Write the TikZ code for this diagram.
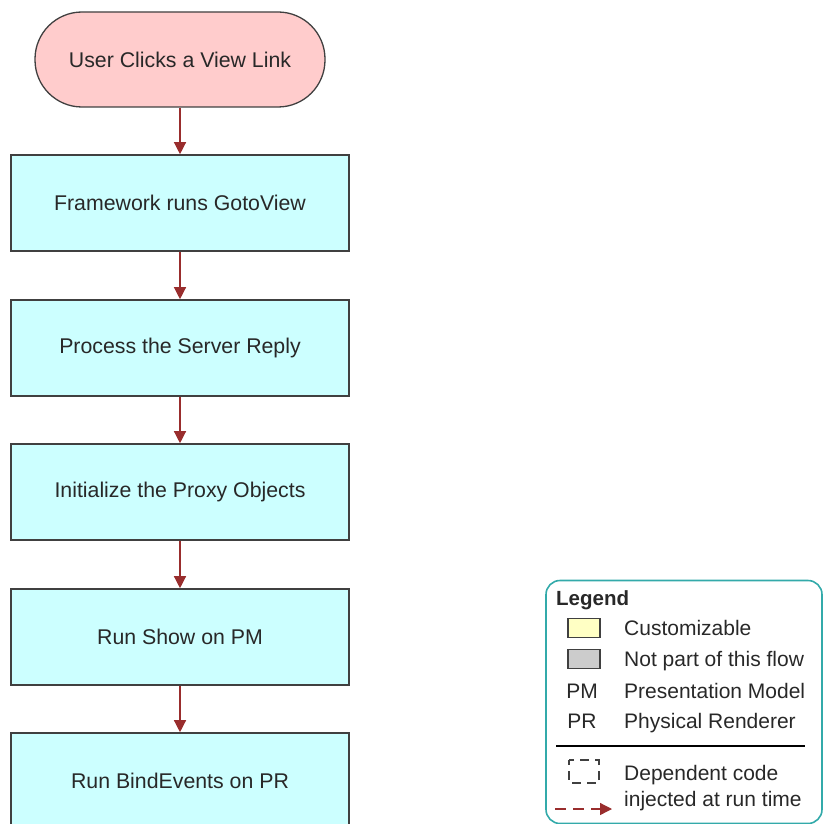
\documentclass[tikz,border=0pt]{standalone}
\usepackage{fontspec}
\setmainfont{Liberation Sans}
\usetikzlibrary{arrows.meta}
\definecolor{flowRed}{RGB}{153, 45, 45}
\definecolor{flowPink}{RGB}{255, 204, 204}
\definecolor{flowCyan}{RGB}{204, 255, 255}
\definecolor{flowEdge}{RGB}{64, 64, 64}
\definecolor{flowText}{RGB}{40, 40, 40}
\definecolor{legendTeal}{RGB}{51, 170, 170}
\definecolor{legendYellow}{RGB}{255, 255, 196}
\definecolor{legendGray}{RGB}{204, 204, 204}

\begin{document}
\begin{tikzpicture}[x=1pt, y=-1pt]
    % Styles
    \tikzstyle{startnode} = [rectangle, rounded corners=47pt, draw=flowEdge, fill=flowPink, line width=1.3pt, text=flowText, minimum width=290pt, minimum height=95pt, font=\fontsize{21.3}{25}\selectfont]
    \tikzstyle{stepbox} = [rectangle, draw=flowEdge, fill=flowCyan, line width=1.6pt, text=flowText, minimum width=338pt, minimum height=96pt, font=\fontsize{21.3}{25}\selectfont]
    \tikzstyle{flow} = [draw=flowRed, line width=1.3pt, -{Triangle[width=12pt, length=12pt]}]
    \tikzstyle{swatch} = [rectangle, draw=flowEdge, line width=1.3pt, minimum width=32pt, minimum height=19pt, inner sep=0pt]
    \tikzstyle{legendtext} = [inner sep=0pt, anchor=west, text=flowText, text height=19pt, text depth=4pt, font=\fontsize{21}{25}\selectfont]

    \clip (0,0) rectangle (824,824);

    % Flow
    \node[startnode] (click) at (180, 59.5) {User Clicks a View Link};
    \node[stepbox] (goto) at (180, 203) {Framework runs GotoView};
    \node[stepbox] (reply) at (180, 348) {Process the Server Reply};
    \node[stepbox] (proxy) at (180, 492) {Initialize the Proxy Objects};
    \node[stepbox] (show) at (180, 637) {Run Show on PM};
    \node[stepbox] (bind) at (180, 781) {Run BindEvents on PR};

    \draw[flow] (click) -- (goto);
    \draw[flow] (goto) -- (reply);
    \draw[flow] (reply) -- (proxy);
    \draw[flow] (proxy) -- (show);
    \draw[flow] (show) -- (bind);

    % Legend
    \node[rectangle, rounded corners=14pt, draw=legendTeal, line width=1.6pt, minimum width=276pt, minimum height=243pt] (legend) at (684, 702) {};
    \node[legendtext, font=\fontsize{20.5}{24}\selectfont\bfseries] (legtitle) at (556, 598) {Legend};
    \node[swatch, fill=legendYellow] (custbox) at (584, 628) {};
    \node[legendtext] (custtext) at (624, 628) {Customizable};
    \node[swatch, fill=legendGray] (notbox) at (584, 659) {};
    \node[legendtext] (nottext) at (624, 659) {Not part of this flow};
    \node[legendtext, anchor=center] (pmabbr) at (582, 691) {PM};
    \node[legendtext] (pmtext) at (624, 691) {Presentation Model};
    \node[legendtext, anchor=center] (prabbr) at (582, 721) {PR};
    \node[legendtext] (prtext) at (624, 721) {Physical Renderer};
    \coordinate (sepl) at (556, 746);
    \coordinate (sepr) at (805, 746);
    \draw[line width=1.3pt, black] (sepl) -- (sepr);
    \coordinate (depa) at (569, 760);
    \coordinate (depb) at (599, 783);
    \draw[line width=1.5pt, flowEdge, dash pattern=on 9pt off 6pt, dash phase=4pt] (depa) rectangle (depb);
    \node[legendtext] (deptext) at (624, 773) {Dependent code};
    \node[legendtext] (injtext) at (624, 799) {injected at run time};
    \coordinate (inja) at (555, 809);
    \coordinate (injb) at (612, 809);
    \draw[flow, dash pattern=on 11pt off 7pt] (inja) -- (injb);
\end{tikzpicture}
\end{document}
